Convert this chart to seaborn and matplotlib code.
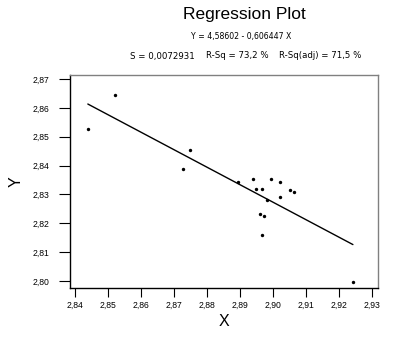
import numpy as np
import pandas as pd
import matplotlib
matplotlib.use("Agg")
import matplotlib.pyplot as plt
import seaborn as sns
from matplotlib.ticker import FuncFormatter

# Observations
x_vals = [2.8439, 2.8521, 2.8728, 2.8748, 2.8893, 2.8938, 2.8947, 2.8968, 2.8993,
          2.9020, 2.8982, 2.9021, 2.9051, 2.9063, 2.8962, 2.8972, 2.8968, 2.9242]
y_vals = [2.8527, 2.8646, 2.8387, 2.8454, 2.8343, 2.8355, 2.8320, 2.8320, 2.8353,
          2.8343, 2.8282, 2.8291, 2.8314, 2.8309, 2.8232, 2.8226, 2.8161, 2.7997]

# Fitted regression coefficients
intercept = 4.58602
slope = -0.606447

x_ticks = [2.84, 2.85, 2.86, 2.87, 2.88, 2.89, 2.90, 2.91, 2.92, 2.93]
y_ticks = [2.80, 2.81, 2.82, 2.83, 2.84, 2.85, 2.86, 2.87]

sns.set_style("white")
plt.rcParams["font.family"] = ["Liberation Sans", "DejaVu Sans"]
plt.rcParams.update({"text.color": "black", "axes.labelcolor": "black",
                     "xtick.color": "black", "ytick.color": "black"})

df = pd.DataFrame({"X": x_vals, "Y": y_vals})
x_line = np.array([min(x_vals), max(x_vals)])
fit = pd.DataFrame({"X": x_line, "Y": intercept + slope * x_line})

fig = plt.figure(figsize=(3.94, 3.38), dpi=100)
ax = fig.add_axes([70 / 394, 1 - 288 / 338, 308 / 394, 213 / 338])

sns.lineplot(data=fit, x="X", y="Y", ax=ax, color="black", linewidth=1.0)
sns.scatterplot(data=df, x="X", y="Y", ax=ax, color="black", s=6,
                edgecolor="black", linewidth=0, zorder=3)

ax.set_xlim(2.8385, 2.9318)
ax.set_ylim(2.7976, 2.8714)
ax.set_xticks(x_ticks)
ax.set_yticks(y_ticks)
comma = FuncFormatter(lambda v, p: f"{v:.2f}".replace(".", ","))
ax.xaxis.set_major_formatter(comma)
ax.yaxis.set_major_formatter(comma)
ax.tick_params(axis="both", which="major", direction="out", width=0.8,
               color="black", labelcolor="black", labelsize=6.2, bottom=True, left=True)
ax.tick_params(axis="y", length=8, pad=7)
ax.tick_params(axis="x", length=6.5, pad=3)

for side in ("left", "bottom"):
    ax.spines[side].set_color("black")
    ax.spines[side].set_linewidth(1.0)
for side in ("top", "right"):
    ax.spines[side].set_color("#808080")
    ax.spines[side].set_linewidth(1.0)

ax.set_xlabel("X", fontsize=11.5, labelpad=3, color="black")
ax.set_ylabel("Y", fontsize=11.5, labelpad=6, color="black")

fig.text(244 / 394, 1 - 15 / 338, "Regression Plot", ha="center", va="center",
         fontsize=12.5, color="black")
fig.text(241 / 394, 1 - 37 / 338, "Y = 4,58602 - 0,606447 X", ha="center", va="center",
         fontsize=5.6, family=["DejaVu Sans"], color="black")
stats = [(130, "S = 0,0072931"), (206, "R-Sq = 73,2 %"), (279, "R-Sq(adj) = 71,5 %")]
for xp, txt in stats:
    fig.text(xp / 394, 1 - 56 / 338, txt, ha="left", va="center", fontsize=6.2,
             family=["DejaVu Sans"], color="black")

fig.savefig("out.png", dpi=100)
